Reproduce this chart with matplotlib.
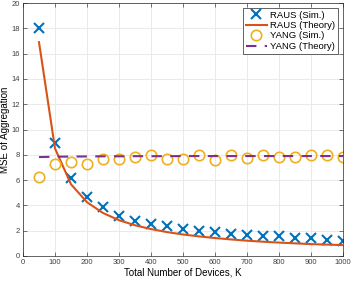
import matplotlib
matplotlib.use('Agg')
import matplotlib.pyplot as plt

plt.rcParams['font.family'] = ['Liberation Sans', 'DejaVu Sans']

# so thiet bi K
K = [50, 100, 150, 200, 250, 300, 350, 400, 450, 500,
     550, 600, 650, 700, 750, 800, 850, 900, 950, 1000]

# RAUS
raus_sim = [18.0, 8.9, 6.2, 4.65, 3.85, 3.2, 2.8, 2.55, 2.35, 2.1,
            1.95, 1.9, 1.72, 1.68, 1.6, 1.55, 1.45, 1.4, 1.28, 1.2]
raus_theory = [16.9, 8.5, 5.67, 4.25, 3.4, 2.83, 2.43, 2.13, 1.89, 1.7,
               1.55, 1.42, 1.31, 1.21, 1.13, 1.06, 1.0, 0.94, 0.9, 0.86]

# YANG
yang_sim = [6.27, 7.3, 7.4, 7.3, 7.64, 7.64, 7.84, 7.98, 7.67, 7.67,
            8.0, 7.6, 7.95, 7.77, 7.95, 7.85, 7.85, 8.0, 8.0, 7.8]
yang_theory = [7.82, 7.85, 7.86, 7.87, 7.88, 7.88, 7.89, 7.89, 7.89, 7.9,
               7.9, 7.9, 7.9, 7.9, 7.9, 7.9, 7.9, 7.9, 7.9, 7.9]

fig = plt.figure(figsize=(3.53, 2.81), dpi=100)
ax = fig.add_axes([23 / 353, 25 / 281, 320 / 353, 253 / 281])

ax.plot(K, raus_sim, 'x', color='#0072BD', markersize=6.5, mew=1.5, label='RAUS (Sim.)')
ax.plot(K, raus_theory, '-', color='#D95319', lw=1.5, label='RAUS (Theory)')
ax.plot(K, yang_sim, 'o', color='#EDB120', markersize=7.5, mfc='none', mew=1.2, label='YANG (Sim.)')
ax.plot(K, yang_theory, '--', color='#7E2F8E', lw=1.5, dashes=(5, 4), label='YANG (Theory)')

ax.set_xlim(0, 1000)
ax.set_ylim(0, 20)
ax.set_xticks(range(0, 1001, 100))
ax.set_yticks(range(0, 21, 2))
ax.grid(True, color='#e6e6e6', lw=0.6)
ax.set_axisbelow(True)
ax.tick_params(direction='in', labelsize=5.5, length=3, width=0.5, colors='#404040',
               top=True, right=True, pad=2)
for s in ax.spines.values():
    s.set_color('#262626')
    s.set_linewidth(0.5)

ax.set_xlabel('Total Number of Devices, K', fontsize=7, labelpad=1)
ax.set_ylabel('MSE of Aggregation', fontsize=7, labelpad=1)

leg = ax.legend(loc='upper right', fontsize=6.8, fancybox=False, framealpha=1,
                handlelength=2.2, borderpad=0.3, labelspacing=0.15, handletextpad=0.4,
                borderaxespad=0.5)
leg.get_frame().set_edgecolor('#262626')
leg.get_frame().set_linewidth(0.5)

fig.savefig('out.png', dpi=100)
